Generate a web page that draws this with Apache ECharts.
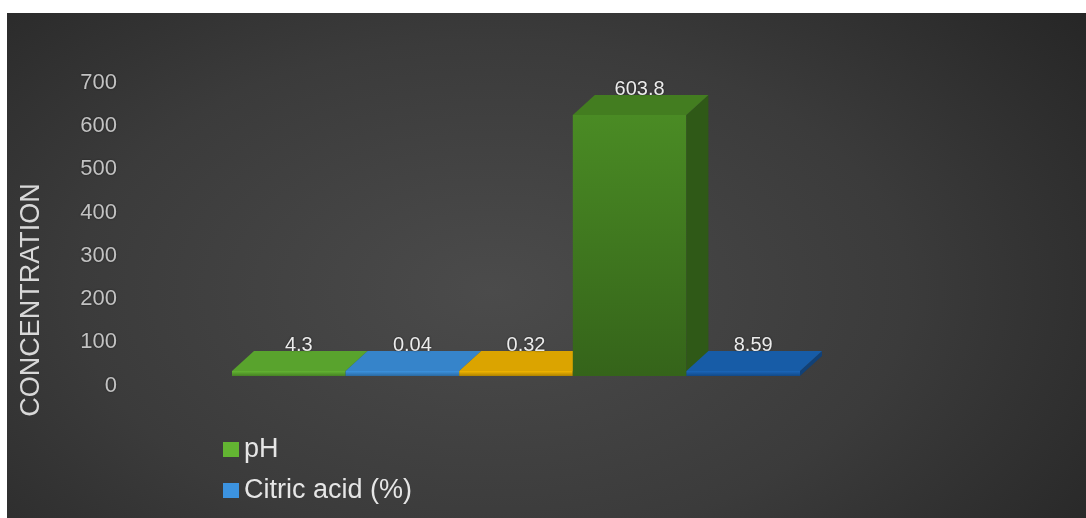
<!DOCTYPE html>
<html>
<head>
<meta charset="utf-8">
<script src="https://cdn.jsdelivr.net/npm/echarts@6/dist/echarts.min.js"></script>
<style>
  html, body { margin: 0; padding: 0; background: #fff; }
  #chart {
    position: absolute; left: 7px; top: 13px; width: 1079px; height: 505px;
    background: radial-gradient(ellipse 70% 90% at 45% 55%, #4b4b4b 0%, #3b3b3b 55%, #262626 100%);
  }
</style>
</head>
<body>
<div id="chart"></div>
<script>
// data
const seriesNames = ['pH', 'Citric acid (%)', 'Series 3', 'Series 4', 'Series 5'];
const values = [4.3, 0.04, 0.32, 603.8, 8.59];
const colors = ['#63b532', '#3c93e0', '#f3b600', '#4a8b24', '#1a66ba'];
const legendShown = ['pH', 'Citric acid (%)'];
const yMin = 0, yMax = 700, yStep = 100;
const axisTitle = 'CONCENTRATION';

const FONT = '"Liberation Sans", Arial, sans-serif';
const DX = 22, DY = -20, MIN_H = 5;

function shade(hex, f) {
  const n = parseInt(hex.slice(1), 16);
  const r = Math.round(((n >> 16) & 255) * f);
  const g = Math.round(((n >> 8) & 255) * f);
  const b = Math.round((n & 255) * f);
  return 'rgb(' + r + ',' + g + ',' + b + ')';
}

function renderBar(params, api) {
  const base = colors[params.seriesIndex];
  const x = api.value(0), v = api.value(1);
  const p0 = api.coord([x, 0]);
  const p1 = api.coord([x, v]);
  const w = api.size([1, 0])[0];
  const left = p0[0] - w / 2, right = p0[0] + w / 2;
  const yb = p0[1];
  const yt = Math.min(p1[1], yb - MIN_H);
  return {
    type: 'group',
    children: [
      {
        type: 'rect',
        shape: { x: left, y: yt, width: w, height: yb - yt },
        style: {
          fill: new echarts.graphic.LinearGradient(0, 0, 0, 1, [
            { offset: 0, color: base },
            { offset: 1, color: shade(base, 0.72) }
          ])
        }
      },
      {
        type: 'polygon',
        shape: { points: [[right, yt], [right + DX, yt + DY], [right + DX, yb + DY], [right, yb]] },
        style: { fill: shade(base, 0.64) }
      },
      {
        type: 'polygon',
        shape: { points: [[left, yt], [left + DX, yt + DY], [right + DX, yt + DY], [right, yt]] },
        style: { fill: shade(base, 0.9) }
      },
      {
        type: 'text',
        style: {
          x: p0[0] + 10, y: yt + DY - 6,
          text: String(v),
          align: 'center', verticalAlign: 'middle',
          fill: '#ececec', font: '20px ' + FONT,
          textShadowColor: 'rgba(0,0,0,0.6)', textShadowBlur: 2
        }
      }
    ]
  };
}

const chart = echarts.init(document.getElementById('chart'));
chart.setOption({
  animation: false,
  backgroundColor: 'transparent',
  grid: { left: 225, right: 286, top: 60.4, bottom: 142 },
  legend: {
    data: legendShown,
    orient: 'vertical',
    left: 211, top: 418,
    icon: 'rect',
    itemWidth: 16, itemHeight: 15, itemGap: 14,
    textStyle: { color: '#e6e6e6', fontSize: 27, fontFamily: FONT }
  },
  xAxis: {
    type: 'category',
    data: seriesNames.map((_, i) => String(i)),
    show: false
  },
  yAxis: {
    type: 'value',
    min: yMin, max: yMax, interval: yStep,
    axisLine: { show: false },
    axisTick: { show: false },
    splitLine: { show: false },
    axisLabel: {
      color: '#c2c2c2', fontSize: 22, fontFamily: FONT,
      margin: 115, verticalAlign: 'top', lineHeight: 19,
      textShadowColor: 'rgba(0,0,0,0.5)', textShadowBlur: 2
    }
  },
  graphic: [{
    type: 'text',
    x: 25, y: 287,
    rotation: Math.PI / 2,
    style: {
      text: axisTitle,
      align: 'center', verticalAlign: 'middle',
      fill: '#d8d8d8', font: '27px ' + FONT
    }
  }],
  series: seriesNames.map((name, i) => ({
    type: 'custom',
    name: name,
    itemStyle: { color: colors[i] },
    renderItem: renderBar,
    data: [[i, values[i]]]
  }))
});
</script>
</body>
</html>
